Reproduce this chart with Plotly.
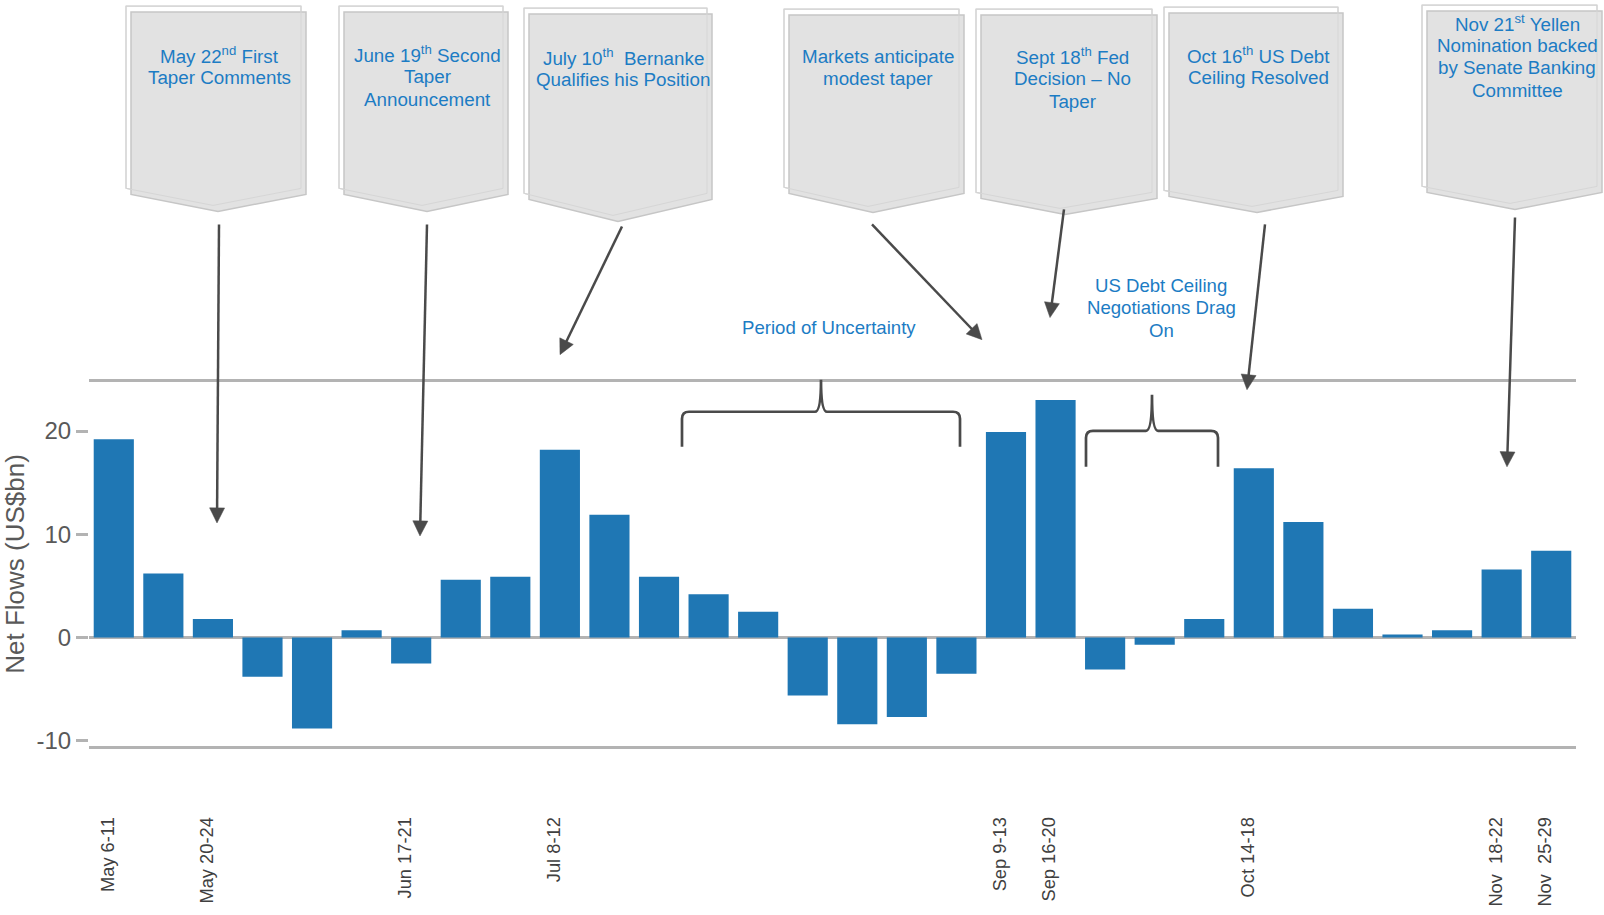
import math
import plotly.graph_objects as go

# ---------------- data ----------------
weeks = ["May 6-11", "May 13-17", "May 20-24", "May 27-31", "Jun 3-7", "Jun 10-14",
         "Jun 17-21", "Jun 24-28", "Jul 1-5", "Jul 8-12", "Jul 15-19", "Jul 22-26",
         "Jul 29-Aug 2", "Aug 5-9", "Aug 12-16", "Aug 19-23", "Aug 26-30", "Sep 2-6",
         "Sep 9-13", "Sep 16-20", "Sep 23-27", "Sep 30-Oct 4", "Oct 7-11", "Oct 14-18",
         "Oct 21-25", "Oct 28-Nov 1", "Nov 4-8", "Nov 11-15", "Nov 18-22", "Nov 25-29"]
net_flows = [19.2, 6.2, 1.8, -3.8, -8.8, 0.7, -2.5, 5.6, 5.9, 18.2,
             11.9, 5.9, 4.2, 2.5, -5.6, -8.4, -7.7, -3.5, 19.9, 23.0,
             -3.1, -0.7, 1.8, 16.4, 11.2, 2.8, 0.3, 0.7, 6.6, 8.4]
tick_weeks = ["May 6-11", "May 20-24", "Jun 17-21", "Jul 8-12", "Sep 9-13",
              "Sep 16-20", "Oct 14-18", "Nov 18-22", "Nov 25-29"]
tick_text = ["May 6-11", "May 20-24", "Jun 17-21", "Jul 8-12", "Sep 9-13",
             "Sep 16-20", "Oct 14-18", "Nov  18-22", "Nov  25-29"]
y_ticks = [-10, 0, 10, 20]
y_tick_text = ["-10", "0", "10", "20"]

callout_texts = [
    ["May 22<sup>nd</sup> First", "Taper Comments"],
    ["June 19<sup>th</sup> Second", "Taper", "Announcement"],
    ["July 10<sup>th</sup>  Bernanke", "Qualifies his Position"],
    ["Markets anticipate", "modest taper"],
    ["Sept 18<sup>th</sup> Fed", "Decision \u2013 No", "Taper"],
    ["Oct 16<sup>th</sup> US Debt", "Ceiling Resolved"],
    ["Nov 21<sup>st</sup> Yellen", "Nomination backed", "by Senate Banking", "Committee"],
]
bracket_texts = [["Period of Uncertainty"], ["US Debt Ceiling", "Negotiations Drag", "On"]]

# ---------------- layout geometry (pixels) ----------------
W, H = 1604, 915
X0, X1 = 89, 1576
Y0, Y1 = 382.3, 745.7


def px(x):
    return (x - X0) / (X1 - X0)


def py(y):
    return (Y1 - y) / (Y1 - Y0)


# front banner: left, right, top, side-bottom, point-x, point-y
boxes = [
    (131, 306, 13, 195, 218, 212),
    (344, 508, 13, 195, 427, 212),
    (529, 712, 15, 200, 618, 222),
    (789, 964, 16, 194, 873, 213),
    (981, 1157, 16, 199, 1065, 215),
    (1169, 1343, 14, 197, 1257, 213),
    (1427, 1602, 12, 193, 1515, 210),
]
# first-line centre of each callout text
text_pos = [(219, 56), (427, 55), (623, 58), (878, 57), (1072, 57), (1258, 56), (1517, 24)]
# arrows: tail (x, y), tip (x, y)
arrows = [
    ((219, 225), (217, 523)),
    ((427, 225), (420, 536)),
    ((622, 227), (560, 355)),
    ((872, 225), (982, 340)),
    ((1064, 210), (1050, 318)),
    ((1265, 225), (1247, 390)),
    ((1515, 218), (1507, 467)),
]
# brackets: left x, right x, leg bottom y, bar y, cusp x, cusp top y
brackets = [
    (682, 960, 447, 412, 821, 380),
    (1086, 1218, 467, 431, 1152, 395),
]
bracket_text_pos = [(829, 328), (1161, 286)]
LINE_STEP = 22.4

BLUE_TXT = "#1c7cc4"
DARK = "#4a4a4a"
FONT = "Liberation Sans, Arial, sans-serif"

fig = go.Figure()
fig.add_trace(go.Bar(x=weeks, y=net_flows, marker_color="#1f77b4",
                     marker_line_width=0, hoverinfo="x+y"))

shapes = []


def banner_path(l, r, t, sb, pxx, pyy):
    return (f"M {px(l)},{py(t)} L {px(r)},{py(t)} L {px(r)},{py(sb)} "
            f"L {px(pxx)},{py(pyy)} L {px(l)},{py(sb)} Z")


for (l, r, t, sb, pxx, pyy) in boxes:
    dx, dy = -5, -6
    back = banner_path(l + dx, r + dx, t + dy, sb + dy, pxx + dx, pyy + dy)
    shapes.append(dict(type="path", xref="paper", yref="paper", path=back,
                       fillcolor="white", line=dict(color="#cfcfcf", width=1.2)))
    shapes.append(dict(type="path", xref="paper", yref="paper",
                       path=banner_path(l, r, t, sb, pxx, pyy),
                       fillcolor="#e2e2e2", line=dict(color="#c6c6c6", width=1.5)))
    shapes.append(dict(type="path", xref="paper", yref="paper", path=back,
                       fillcolor="rgba(0,0,0,0)", line=dict(color="#d6d6d6", width=1)))

for (lx, rx, lb, by, cx, ct) in brackets:
    rr = 7
    p = (f"M {px(lx)},{py(lb)} L {px(lx)},{py(by + rr)} "
         f"Q {px(lx)},{py(by)} {px(lx + rr)},{py(by)} "
         f"L {px(cx - 6)},{py(by)} "
         f"Q {px(cx)},{py(by)} {px(cx)},{py(ct)} "
         f"Q {px(cx)},{py(by)} {px(cx + 6)},{py(by)} "
         f"L {px(rx - rr)},{py(by)} "
         f"Q {px(rx)},{py(by)} {px(rx)},{py(by + rr)} "
         f"L {px(rx)},{py(lb)}")
    shapes.append(dict(type="path", xref="paper", yref="paper", path=p,
                       line=dict(color=DARK, width=2.7)))

# arrows as a shaft plus a filled triangular head
HEAD_L, HEAD_W = 15, 15
for (tail, tip) in arrows:
    vx, vy = tip[0] - tail[0], tip[1] - tail[1]
    n = math.hypot(vx, vy)
    ux, uy = vx / n, vy / n
    bx, by = tip[0] - ux * HEAD_L, tip[1] - uy * HEAD_L
    nx, ny = -uy, ux
    shapes.append(dict(type="line", xref="paper", yref="paper",
                       x0=px(tail[0]), y0=py(tail[1]), x1=px(bx + ux), y1=py(by + uy),
                       line=dict(color=DARK, width=2.5)))
    hp = (f"M {px(tip[0])},{py(tip[1])} "
          f"L {px(bx + nx * HEAD_W / 2)},{py(by + ny * HEAD_W / 2)} "
          f"L {px(bx - nx * HEAD_W / 2)},{py(by - ny * HEAD_W / 2)} Z")
    shapes.append(dict(type="path", xref="paper", yref="paper", path=hp,
                       fillcolor=DARK, line=dict(color=DARK, width=0.5)))

annotations = []


def add_lines(lines, cx, first_y, size):
    for i, line in enumerate(lines):
        annotations.append(dict(text=line, x=px(cx), y=py(first_y + i * LINE_STEP),
                                xref="paper", yref="paper",
                                xanchor="center", yanchor="middle", showarrow=False,
                                font=dict(family=FONT, size=size, color=BLUE_TXT)))


for lines, (tx, ty) in zip(callout_texts, text_pos):
    add_lines(lines, tx, ty, 18.8)

for lines, (tx, ty) in zip(bracket_texts, bracket_text_pos):
    add_lines(lines, tx, ty, 18.6)

fig.update_layout(
    width=W, height=H, autosize=False,
    margin=dict(l=X0, r=W - X1, t=Y0, b=H - Y1, pad=0),
    paper_bgcolor="white", plot_bgcolor="white",
    showlegend=False, bargap=0.19,
    font=dict(family=FONT),
    shapes=shapes, annotations=annotations,
    xaxis=dict(type="category", range=[-0.5, 29.5], showgrid=False, zeroline=False,
               automargin=False,
               showline=True, mirror=True, linecolor="#b3b3b3", linewidth=2.7,
               tickmode="array", tickvals=tick_weeks, ticktext=tick_text,
               tickangle=-90, ticks="", ticklabelstandoff=61, ticklabelshift=-6,
               tickfont=dict(family=FONT, size=18.3, color="#404040")),
    yaxis=dict(range=[-10.5, 24.75], showgrid=False, showline=False, automargin=False,
               zeroline=True, zerolinecolor="#b3b3b3", zerolinewidth=3,
               tickmode="array", tickvals=y_ticks, ticktext=y_tick_text,
               ticks="outside", ticklen=12, tickwidth=3, tickcolor="#b3b3b3",
               ticklabelstandoff=0,
               tickfont=dict(family=FONT, size=24, color="#595959"),
               title=dict(text="Net Flows (US$bn)", standoff=12,
                          font=dict(family=FONT, size=26, color="#595959"))),
)

fig.write_html("out.html")
